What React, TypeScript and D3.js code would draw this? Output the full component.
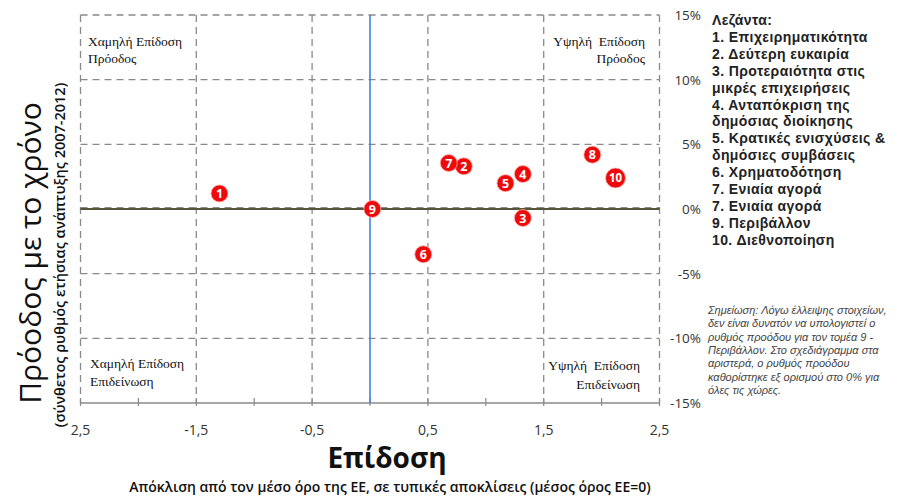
import React from "react";
import * as d3 from "d3";

const pointLabels = ["1", "2", "3", "4", "5", "6", "7", "8", "9", "10"];
const performance = [-1.3, 0.81, 1.32, 1.32, 1.17, 0.46, 0.68, 1.92, 0.02, 2.12];
const progress = [1.2, 3.3, -0.7, 2.7, 2.0, -3.5, 3.55, 4.2, 0, 2.4];

const xTickValues = [-2.5, -1.5, -0.5, 0.5, 1.5, 2.5];
const xTickLabels = ["2,5", "-1,5", "-0,5", "0,5", "1,5", "2,5"];
const yTickValues = [15, 10, 5, 0, -5, -10, -15];
const yTickLabels = ["15%", "10%", "5%", "0%", "-5%", "-10%", "-15%"];

const legendLines = [
  "Λεζάντα:",
  "1. Επιχειρηματικότητα",
  "2. Δεύτερη ευκαιρία",
  "3. Προτεραιότητα στις",
  "μικρές επιχειρήσεις",
  "4. Ανταπόκριση της",
  "δημόσιας διοίκησης",
  "5. Κρατικές ενισχύσεις &",
  "δημόσιες συμβάσεις",
  "6. Χρηματοδότηση",
  "7. Ενιαία αγορά",
  "7. Ενιαία αγορά",
  "9. Περιβάλλον",
  "10. Διεθνοποίηση",
];

const noteLines = [
  "Σημείωση: Λόγω έλλειψης στοιχείων,",
  "δεν είναι δυνατόν να υπολογιστεί ο",
  "ρυθμός προόδου για τον τομέα 9 -",
  "Περιβάλλον. Στο σχεδιάγραμμα στα",
  "αριστερά, ο ρυθμός προόδου",
  "καθορίστηκε εξ ορισμού στο  0% για",
  "όλες τις χώρες.",
];

export default function App() {
  const W = 897, H = 497;
  const x = d3.scaleLinear().domain([-2.5, 2.5]).range([80.5, 659.5]);
  const y = d3.scaleLinear().domain([-15, 15]).range([403, 15]);
  const grid = "#8a8a8a";
  const dash = "7,5";
  const sans = "'Open Sans', 'Noto Sans', sans-serif";
  const serif = "'Liberation Serif', 'DejaVu Serif', serif";
  const minorX = d3.range(-2.5, 2.51, 0.5);

  return (
    <div style={{ position: "absolute", left: 0, top: 0 }}>
      <svg width={W} height={H} style={{ display: "block", background: "#fff" }}>
        {/* horizontal gridlines */}
        {yTickValues.filter((v) => v > -15).map((v) => (
          <line key={"hy" + v} x1={x(-2.5)} x2={x(2.5)} y1={y(v)} y2={y(v)}
            stroke={grid} strokeWidth={1.3} strokeDasharray={dash} />
        ))}
        {/* vertical gridlines */}
        {xTickValues.map((v) => (
          <line key={"vx" + v} x1={x(v)} x2={x(v)} y1={y(15)} y2={y(-15)}
            stroke={grid} strokeWidth={1.3} strokeDasharray={dash} />
        ))}
        {/* zero line */}
        <line x1={x(-2.5)} x2={x(2.5)} y1={y(0)} y2={y(0)} stroke="#55553a" strokeWidth={2} />
        <line x1={x(-2.5)} x2={x(2.5)} y1={y(0) - 1.5} y2={y(0) - 1.5} stroke={grid} strokeWidth={1} strokeDasharray={dash} />
        {/* bottom axis */}
        <line x1={x(-2.5)} x2={x(2.5)} y1={y(-15)} y2={y(-15)} stroke="#8a8a8a" strokeWidth={1.3} />
        {minorX.map((v) => (
          <line key={"t" + v} x1={x(v)} x2={x(v)} y1={y(-15) - 5} y2={y(-15) + 3} stroke="#8a8a8a" strokeWidth={1.2} />
        ))}
        {/* blue vertical line at 0 */}
        <line x1={x(0)} x2={x(0)} y1={y(15)} y2={y(-15)} stroke="#3b82d6" strokeWidth={1.6} />

        {/* x tick labels */}
        {xTickValues.map((v, i) => (
          <text key={"xl" + v} x={x(v)} y={435} textAnchor="middle" fontFamily={sans} fontSize={14} fill="#333">
            {xTickLabels[i]}
          </text>
        ))}
        {/* y tick labels */}
        {yTickValues.map((v, i) => (
          <text key={"yl" + v} x={701} y={y(v) + 5} textAnchor="end" fontFamily={sans} fontSize={13.5} fill="#333">
            {yTickLabels[i]}
          </text>
        ))}

        {/* quadrant texts */}
        <g fontFamily={serif} fontSize={13.5} fill="#111">
          <text x={88} y={46}>Χαμηλή Επίδοση</text>
          <text x={88} y={63}>Πρόοδος</text>
          <text x={645} y={46} textAnchor="end" style={{ whiteSpace: "pre" }}>{"Υψηλή  Επίδοση"}</text>
          <text x={645} y={63} textAnchor="end">Πρόοδος</text>
          <text x={90} y={368}>Χαμηλή Επίδοση</text>
          <text x={90} y={386}>Επιδείνωση</text>
          <text x={640} y={370} textAnchor="end" style={{ whiteSpace: "pre" }}>{"Υψηλή  Επίδοση"}</text>
          <text x={640} y={389} textAnchor="end">Επιδείνωση</text>
        </g>

        {/* points */}
        {pointLabels.map((lab, i) => {
          const cx = x(performance[i]);
          const cy = y(progress[i]);
          const r = lab.length > 1 ? 10 : 8.5;
          return (
            <g key={"p" + lab + i}>
              <circle cx={cx} cy={cy} r={r} fill="#ee0a0a" stroke="#ffb0b0" strokeWidth={0.8} />
              <text x={cx} y={cy + 4.5} textAnchor="middle" fontFamily={sans} fontWeight={700}
                fontSize={lab.length > 1 ? 11.5 : 12.5} fill="#fff">{lab}</text>
            </g>
          );
        })}

        {/* y axis titles */}
        <text transform={`translate(41,253) rotate(-90)`} textAnchor="middle" fontFamily={sans} fontSize={30} fill="#111">
          Πρόοδος με το χρόνο
        </text>
        <text transform={`translate(65,255) rotate(-90)`} textAnchor="middle" fontFamily={sans} fontSize={14.5} fontWeight={600} fill="#111">
          (σύνθετος ρυθμός ετήσιας ανάπτυξης 2007-2012)
        </text>

        {/* x axis titles */}
        <text x={387} y={468} textAnchor="middle" fontFamily={sans} fontSize={28} fontWeight={700} fill="#111">
          Επίδοση
        </text>
        <text x={390} y={492} textAnchor="middle" fontFamily={sans} fontSize={14} fontWeight={600} fill="#111">
          Απόκλιση από τον μέσο όρο της ΕΕ, σε τυπικές αποκλίσεις (μέσος όρος ΕΕ=0)
        </text>

        {/* legend */}
        <g fontFamily={"'Liberation Sans', Arial, sans-serif"} fontSize={14} fontWeight={700} fill="#222" letterSpacing={0.4}>
          {legendLines.map((t, i) => (
            <text key={"lg" + i} x={712} y={25 + i * 16.9}>{t}</text>
          ))}
        </g>

        {/* note */}
        <g fontFamily={"'Liberation Sans', Arial, sans-serif"} fontSize={11} fontStyle="italic" fill="#444">
          {noteLines.map((t, i) => (
            <text key={"nt" + i} x={708} y={314 + i * 13.3}>{t}</text>
          ))}
        </g>
      </svg>
    </div>
  );
}
